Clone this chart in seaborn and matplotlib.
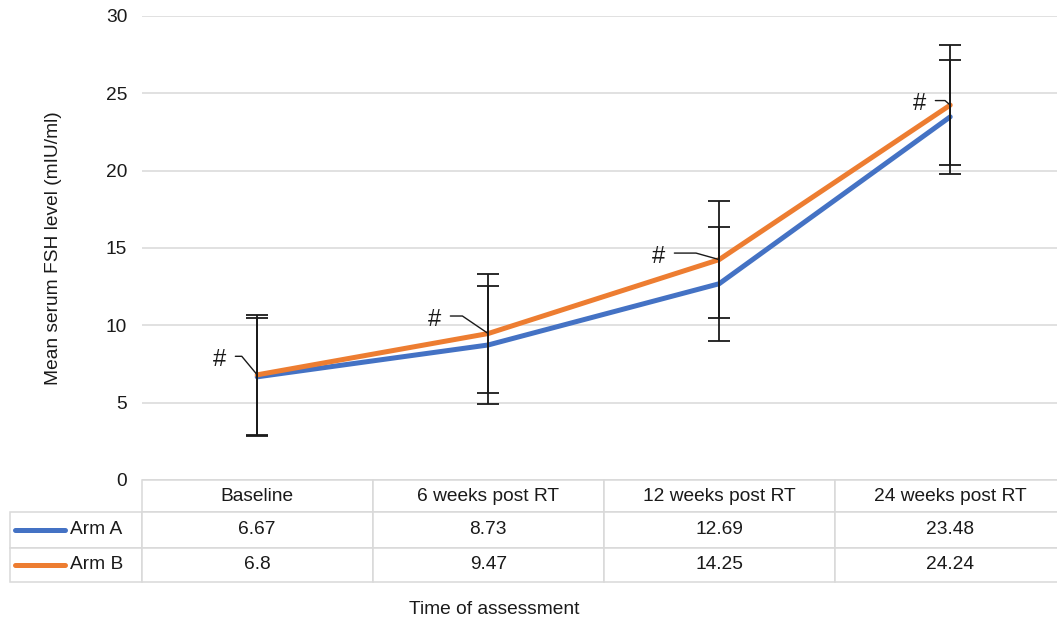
import numpy as np
import pandas as pd
import matplotlib
matplotlib.use("Agg")
import matplotlib.pyplot as plt
import seaborn as sns

# ---- data ----
timepoints = ["Baseline", "6 weeks post RT", "12 weeks post RT", "24 weeks post RT"]
arm_a = [6.67, 8.73, 12.69, 23.48]
arm_b = [6.8, 9.47, 14.25, 24.24]
arm_a_err = [3.8, 3.8, 3.7, 3.7]
arm_b_err = [3.9, 3.86, 3.8, 3.88]
series_names = ["Arm A", "Arm B"]
colors = {"Arm A": "#4472C4", "Arm B": "#ED7D31"}

df = pd.DataFrame({
    "time": timepoints * 2,
    "value": arm_a + arm_b,
    "arm": ["Arm A"] * 4 + ["Arm B"] * 4,
})

sns.set_theme(style="white")
plt.rcParams["font.family"] = ["Liberation Sans", "DejaVu Sans"]
FS = 13.8

W, H = 1057, 620
fig = plt.figure(figsize=(W / 100, H / 100), dpi=100)
ax_left, ax_right, ax_top, ax_bottom = 141.7, 1065.7, 16.0, 480.0
ax = fig.add_axes([ax_left / W, 1 - ax_bottom / H, (ax_right - ax_left) / W, (ax_bottom - ax_top) / H])

sns.lineplot(data=df, x="time", y="value", hue="arm", palette=colors,
             linewidth=3.6, legend=False, sort=False, ax=ax, zorder=3)

xpos = np.arange(len(timepoints))
for vals, errs in [(arm_a, arm_a_err), (arm_b, arm_b_err)]:
    ax.errorbar(xpos, vals, yerr=errs, fmt="none", ecolor="#1a1a1a",
                elinewidth=1.3, capsize=8, capthick=1.3, zorder=4)

ax.set_xlim(-0.5, len(timepoints) - 0.5)
ax.set_ylim(0, 30)
ax.set_yticks(np.arange(0, 31, 5))
ax.yaxis.grid(True, color="#d9d9d9", linewidth=1.1)
ax.set_axisbelow(True)
for s in ax.spines.values():
    s.set_visible(False)
ax.set_xticks([])
ax.set_xlabel("")
ax.tick_params(axis="y", length=0, pad=10.5, labelsize=FS, labelcolor="#1a1a1a")
ax.set_ylabel("Mean serum FSH level (mIU/ml)", fontsize=FS, color="#1a1a1a")
ax.yaxis.set_label_coords((62 - ax_left) / (ax_right - ax_left), 0.5)

# "#" annotations with leader lines (offsets in pixels from the Arm B point)
ann_offsets = [(-38, 15), (-54, 14), (-61, 3), (-31, 1)]
ann_angles = [129.8, 145.8, 164.3, 138.7]
for i, ((dx, dy), angB) in enumerate(zip(ann_offsets, ann_angles)):
    ax.annotate("#", xy=(i, arm_b[i]), xytext=(dx, dy), textcoords="offset pixels",
                ha="center", va="center", fontsize=17, color="#1a1a1a", zorder=5,
                arrowprops=dict(arrowstyle="-", color="#1a1a1a", lw=1.0,
                                connectionstyle=f"angle,angleA=0,angleB={angB},rad=0",
                                relpos=(1.0, 0.66), shrinkA=4.5, shrinkB=0))

# data table
axw = ax_right - ax_left
axh = ax_bottom - ax_top
tbl_left, tbl_bottom = 10.0, 581.7
cell_text = [[""] + timepoints,
             [""] + [str(v) for v in arm_a],
             [""] + [str(v) for v in arm_b]]
col_w = [ax_left - tbl_left] + [231.0] * 4
tbl = ax.table(cellText=cell_text, colWidths=col_w, cellLoc="center",
               bbox=[(tbl_left - ax_left) / axw, -(tbl_bottom - ax_bottom) / axh,
                     (ax_right - tbl_left) / axw, (tbl_bottom - ax_bottom) / axh])
tbl.auto_set_font_size(False)
row_h = [32.3, 35.4, 34.0]
for (r, c), cell in tbl.get_celld().items():
    cell.set_height(row_h[r])
    cell.set_edgecolor("#d9d9d9")
    cell.set_linewidth(1.1)
    cell.get_text().set_fontsize(FS)
    cell.get_text().set_color("#1a1a1a")
tbl[0, 0].visible_edges = ""

# legend keys + series names in the first table column
row_centers = [(512.3 + 547.7) / 2, (547.7 + 581.7) / 2]
for name, yc in zip(series_names, row_centers):
    ya = -(yc - ax_bottom) / axh
    ax.plot([(15 - ax_left) / axw, (65 - ax_left) / axw], [ya, ya], transform=ax.transAxes,
            color=colors[name], linewidth=3.6, solid_capstyle="round", clip_on=False)
    ax.text((70 - ax_left) / axw, ya, name, transform=ax.transAxes, ha="left", va="center",
            fontsize=FS, color="#1a1a1a")

fig.text(494 / W, 1 - 609 / H, "Time of assessment", ha="center", va="center",
         fontsize=FS, color="#1a1a1a")

fig.savefig("out.png", dpi=100)
